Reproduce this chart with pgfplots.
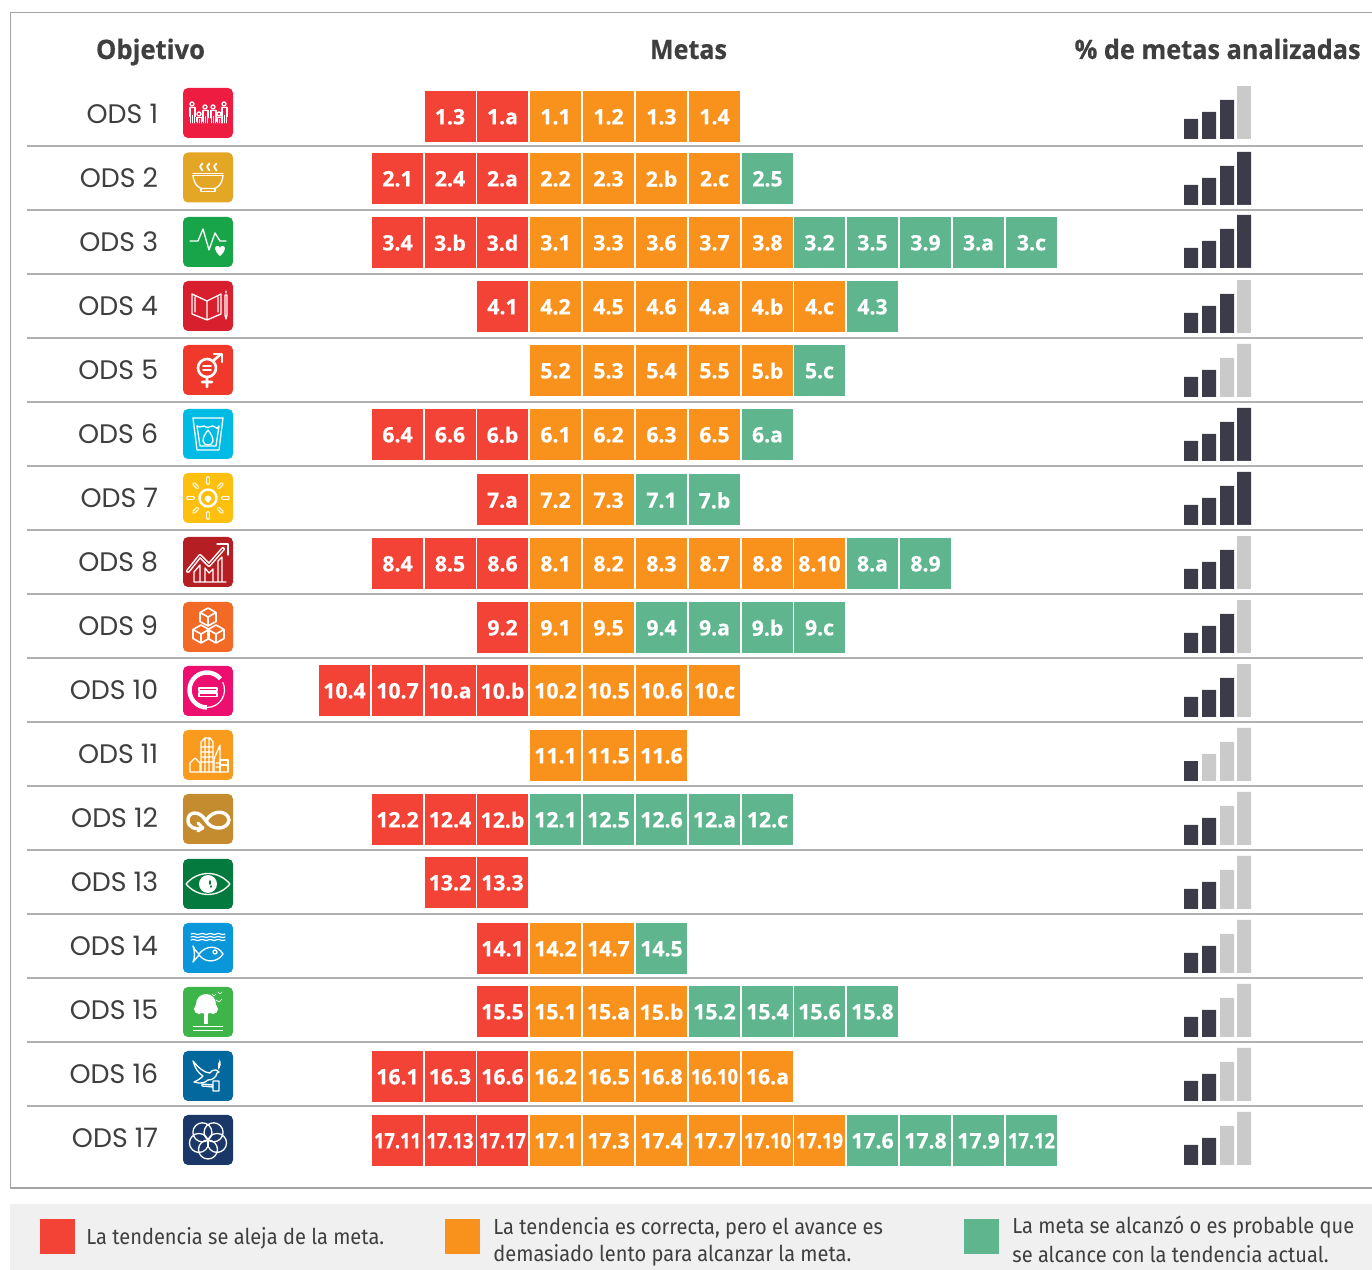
\documentclass[border=0pt]{standalone}
\usepackage{pgfplots}
\usepackage{pgfplotstable}
\usepackage{fontspec}
\pgfplotsset{compat=1.18}
\setmainfont{Fira Sans}
\newfontfamily\legf{Fira Sans}[FakeStretch=0.92]
\newfontfamily\popl{Poppins}
\newfontfamily\popb{Open Sans}[BoldFeatures={FakeBold=0.6}]
\definecolor{tred}{HTML}{F24336}
\definecolor{torange}{HTML}{F8921D}
\definecolor{tgreen}{HTML}{5FB68E}
\definecolor{bdark}{HTML}{3C3B4A}
\definecolor{bgray}{HTML}{CACACA}
\definecolor{ink}{HTML}{3F3F3F}
\definecolor{sepc}{HTML}{B0B0B0}
\definecolor{framec}{HTML}{A4A4A4}

\pgfplotstableread{
x y label
450.5 116 1.3
503 116 1.a
398 178 2.1
450.5 178 2.4
503 178 2.a
398 242 3.4
450.5 242 3.b
503 242 3.d
503 306 4.1
398 434 6.4
450.5 434 6.6
503 434 6.b
503 499.5 7.a
398 563 8.4
450.5 563 8.5
503 563 8.6
503 627 9.2
345 690 10.4
398 690 10.7
450.5 690 10.a
503 690 10.b
398 819 12.2
450.5 819 12.4
503 819 12.b
450.5 882 13.2
503 882 13.3
503 948 14.1
503 1011 15.5
398 1076 16.1
450.5 1076 16.3
503 1076 16.6
398 1140 17.11
450.5 1140 17.13
503 1140 17.17
}\redtiles
\pgfplotstableread{
x y label
556 116 1.1
609 116 1.2
662 116 1.3
715 116 1.4
556 178 2.2
609 178 2.3
662 178 2.b
715 178 2.c
556 242 3.1
609 242 3.3
662 242 3.6
715 242 3.7
768 242 3.8
556 306 4.2
609 306 4.5
662 306 4.6
715 306 4.a
768 306 4.b
820 306 4.c
556 370 5.2
609 370 5.3
662 370 5.4
715 370 5.5
768 370 5.b
556 434 6.1
609 434 6.2
662 434 6.3
715 434 6.5
556 499.5 7.2
609 499.5 7.3
556 563 8.1
609 563 8.2
662 563 8.3
715 563 8.7
768 563 8.8
820 563 8.10
556 627 9.1
609 627 9.5
556 690 10.2
609 690 10.5
662 690 10.6
715 690 10.c
556 755 11.1
609 755 11.5
662 755 11.6
556 948 14.2
609 948 14.7
556 1011 15.1
609 1011 15.a
662 1011 15.b
556 1076 16.2
609 1076 16.5
662 1076 16.8
715 1076 16.10
768 1076 16.a
556 1140 17.1
609 1140 17.3
662 1140 17.4
715 1140 17.7
768 1140 17.10
820 1140 17.19
}\orangetiles
\pgfplotstableread{
x y label
768 178 2.5
820 242 3.2
873 242 3.5
926 242 3.9
979 242 3.a
1032 242 3.c
873 306 4.3
820 370 5.c
768 434 6.a
662 499.5 7.1
715 499.5 7.b
873 563 8.a
926 563 8.9
662 627 9.4
715 627 9.a
768 627 9.b
820 627 9.c
556 819 12.1
609 819 12.5
662 819 12.6
715 819 12.a
768 819 12.c
662 948 14.5
715 1011 15.2
768 1011 15.4
820 1011 15.6
873 1011 15.8
873 1140 17.6
926 1140 17.8
979 1140 17.9
1032 1140 17.12
}\greentiles

\newsavebox\tilebox
\newcommand\tilelabel[1]{\sbox\tilebox{\popb\bfseries\fontsize{10.6pt}{12pt}\selectfont #1}%
  \ifdim\wd\tilebox>23.5pt\resizebox{23.5pt}{\ht\tilebox}{\usebox\tilebox}\else\usebox\tilebox\fi}

% one small bar group per row: baseline in px, dark bars, grey bars
\newcommand\minibars[3]{%
  \begin{axis}[at={(592pt,{(1270-#1)*0.5pt})},anchor=south west,
    width=33.5pt,height=26.5pt,scale only axis,hide axis,clip=false,
    xmin=1184,xmax=1251,ymin=0,ymax=53,ybar,bar width=7pt,bar shift=0pt]
    \addplot[fill=bdark,draw=none] coordinates {#2};
    \addplot[fill=bgray,draw=none] coordinates {#3};
  \end{axis}}

\newcommand\odsrow[2]{\node[anchor=east,text=ink,inner sep=0pt,font=\popl\fontsize{13.4pt}{15pt}\selectfont] at (158.5,#1) {ODS #2};}
\newcommand\sepline[1]{\draw[sepc,line width=0.6pt] (27,#1)--(1363,#1);}
\newcommand\icon[3]{\begin{scope}[shift={(208,#1)}]
  \fill[#2,rounded corners=2.5pt] (-25,-25) rectangle (25,25);
  \begin{scope}[white,line width=0.65pt,line join=round,line cap=round] #3 \end{scope}
\end{scope}}
\newcommand\person[3]{% x, top, height
  \draw (#1,#2) circle (2);
  \draw[line width=0.4pt] (#1-3,#2+3+#3*0.5) -- (#1-3,#2+3) -- (#1+3,#2+3) -- (#1+3,#2+3+#3*0.5);
  \draw[line width=0.4pt] (#1-2,#2+3) -- (#1-2,#2+#3) (#1+2,#2+3) -- (#1+2,#2+#3) (#1,#2+#3*0.6)--(#1,#2+#3);}
\newcommand\cube[2]{\draw[line width=0.8pt] (#1,#2-9) -- (#1+8,#2-4.5) -- (#1+8,#2+4.5) -- (#1,#2+9) -- (#1-8,#2+4.5) -- (#1-8,#2-4.5) -- cycle
  (#1-8,#2-4.5) -- (#1,#2) -- (#1+8,#2-4.5) (#1,#2) -- (#1,#2+9);}
\newcommand\headtxt[2]{\resizebox{#1}{\height}{#2}}

\begin{document}
\begin{tikzpicture}
\path[use as bounding box] (0,0) rectangle (686pt,635pt);
\begin{axis}[width=686pt,height=635pt,scale only axis,hide axis,clip=false,
  xmin=0.5,xmax=1372.5,ymin=0,ymax=1270,y dir=reverse,
  only marks,mark=square*,mark size=12.5pt,
  point meta=explicit symbolic,
  nodes near coords={\tilelabel{\pgfplotspointmeta}},
  every node near coord/.append style={anchor=center,text=white,inner sep=0pt,yshift=-0.4pt}]
  \addplot[color=tred,mark options={fill=tred,line width=0pt}] table[x=x,y=y,meta=label] {\redtiles};
  \addplot[color=torange,mark options={fill=torange,line width=0pt}] table[x=x,y=y,meta=label] {\orangetiles};
  \addplot[color=tgreen,mark options={fill=tgreen,line width=0pt}] table[x=x,y=y,meta=label] {\greentiles};
\end{axis}

\minibars{139}{(1191,20)(1209,27)(1227,39)}{(1244,53)}
\minibars{205}{(1191,20)(1209,27)(1227,39)(1244,53)}{(1244,0)}
\minibars{268}{(1191,20)(1209,27)(1227,39)(1244,53)}{(1244,0)}
\minibars{333}{(1191,20)(1209,27)(1227,39)}{(1244,53)}
\minibars{397}{(1191,20)(1209,27)}{(1227,39)(1244,53)}
\minibars{461}{(1191,20)(1209,27)(1227,39)(1244,53)}{(1244,0)}
\minibars{525}{(1191,20)(1209,27)(1227,39)(1244,53)}{(1244,0)}
\minibars{589}{(1191,20)(1209,27)(1227,39)}{(1244,53)}
\minibars{653}{(1191,20)(1209,27)(1227,39)}{(1244,53)}
\minibars{717}{(1191,20)(1209,27)(1227,39)}{(1244,53)}
\minibars{781}{(1191,20)}{(1209,27)(1227,39)(1244,53)}
\minibars{845}{(1191,20)(1209,27)}{(1227,39)(1244,53)}
\minibars{909}{(1191,20)(1209,27)}{(1227,39)(1244,53)}
\minibars{973}{(1191,20)(1209,27)}{(1227,39)(1244,53)}
\minibars{1037}{(1191,20)(1209,27)}{(1227,39)(1244,53)}
\minibars{1101}{(1191,20)(1209,27)}{(1227,39)(1244,53)}
\minibars{1165}{(1191,20)(1209,27)}{(1227,39)(1244,53)}

\begin{scope}[x=0.5pt,y=-0.5pt,shift={(0pt,635pt)}]
  % frame
  \draw[framec,line width=0.6pt] (1372,12.5)--(10.5,12.5)--(10.5,1188)--(1372,1188);
  \foreach \yy in {146,210,274,338,402,466,530,594,658,722,786,850,914,978,1042,1106} {\sepline{\yy}}
  % headers
  \begin{scope}[every node/.style={inner sep=0pt,text=ink,anchor=base,font=\popb\bfseries\fontsize{13.4pt}{15pt}\selectfont}]
  \node at (150.5,59) {\headtxt{54.5pt}{Objetivo}};
  \node at (688.5,59) {\headtxt{38.5pt}{Metas}};
  \node[anchor=base east] at (1361,59) {\headtxt{143pt}{\% de metas analizadas}};
  \end{scope}
  % row names
  \odsrow{114}{1}\odsrow{178}{2}\odsrow{242}{3}\odsrow{306}{4}\odsrow{370}{5}\odsrow{434}{6}
  \odsrow{498}{7}\odsrow{562}{8}\odsrow{626}{9}\odsrow{690}{10}\odsrow{754}{11}\odsrow{818}{12}
  \odsrow{882}{13}\odsrow{946}{14}\odsrow{1010}{15}\odsrow{1074}{16}\odsrow{1138}{17}
  % icons
  \definecolor{i1}{HTML}{ED1C40}\definecolor{i2}{HTML}{E3A625}\definecolor{i3}{HTML}{18A54A}
  \definecolor{i4}{HTML}{D81F2D}\definecolor{i5}{HTML}{F0392B}\definecolor{i6}{HTML}{00BCE4}
  \definecolor{i7}{HTML}{FDC00F}\definecolor{i8}{HTML}{B51E23}\definecolor{i9}{HTML}{F26A26}
  \definecolor{i10}{HTML}{EC0F70}\definecolor{i11}{HTML}{F99C1E}\definecolor{i12}{HTML}{C48C2E}
  \definecolor{i13}{HTML}{047A3E}\definecolor{i14}{HTML}{0A97D9}\definecolor{i15}{HTML}{3EB54A}
  \definecolor{i16}{HTML}{02689D}\definecolor{i17}{HTML}{1B3768}
  \icon{113}{i1}{\person{-16}{-9}{19}\person{-3}{-6}{16}\person{5}{-6}{16}\person{16}{-9}{19}\person{-9}{1}{9}\person{11}{1}{9}}
  \icon{177.5}{i2}{\draw (-15,-4)--(15,-4) (-15,-2)--(15,-2);
    \draw (-15,-2) .. controls (-14,8) and (-8,11) .. (-6,11) -- (6,11) .. controls (8,11) and (14,8) .. (15,-2);
    \draw (-7,11)--(-7,14)--(7,14)--(7,11);
    \foreach \q in {-7,0,7}{\draw[line width=0.9pt] (\q+1.5,-14) .. controls (\q-1.5,-11) .. (\q+1.5,-7);}}
  \icon{242}{i3}{\draw (-18,-1)--(-10,-1)--(-5,-13)--(1,8)--(7,-9)--(12,-1)--(18,-1);
    \fill (12,14) .. controls (6,9) and (6,4) .. (9,4) .. controls (11,4) .. (12,6) .. controls (13,4) .. (15,4) .. controls (18,4) and (18,9) .. (12,14);}
  \icon{306}{i4}{\draw (-1,-5) -- (-16,-12) -- (-16,8) -- (-1,14) -- (13,8) -- (13,-12) -- cycle (-1,-5) -- (-1,14)
    (-13,-9)--(-13,6) (10,-9)--(10,6);
    \draw (17,-11)--(19,-11)--(19,9)--(18,13)--(17,9)--cycle (18,-15)--(18,-13);}
  \icon{370}{i5}{\draw[line width=1.3pt] (-1,-2) circle (9) (5,-9)--(13,-16) (-1,7)--(-1,17) (-6,12)--(4,12);
    \draw[line width=1.1pt] (6,-16)--(14,-16)--(14,-8);
    \draw[line width=0.9pt] (-5,-4)--(3,-4) (-5,0)--(3,0);}
  \icon{434}{i6}{\draw (-15,-16)--(15,-16)--(11,16)--(-11,16)--cycle
    (-11,-8) .. controls (-7,-5) and (-5,-10) .. (-2,-7) .. controls (1,-5) and (4,-10) .. (7,-7) .. controls (9,-5) .. (11,-8) -- (8,12) -- (-8,12) -- cycle;
    \draw (0,-4) .. controls (-8,6) and (-5,11) .. (0,11) .. controls (5,11) and (8,6) .. (0,-4);}
  \icon{498}{i7}{\draw[line width=1.2pt] (0,0) circle (8.5);\fill (-3.5,1) arc (180:360:3.5) -- (0,5) -- cycle;
    \foreach \a in {0,45,...,315}{\draw[line width=1.9pt] (\a:15)--(\a:20);\draw[i7,line width=0.7pt] (\a:15)--(\a:20);}}
  \icon{562}{i8}{\draw (-14,20)--(18,20)
    (-14,20)--(-14,10)--(-8,3)--(-8,20) (-3,20)--(-3,6)--(1,11)--(5,7)--(5,20) (10,20)--(10,-1)--(14,-5)--(14,20);
    \draw[line width=2pt] (-20,9)--(-8,-6)--(1,3)--(15,-13);
    \draw[line width=0.5pt,i8] (-20,9)--(-8,-6)--(1,3)--(15,-13);
    \draw (9,-18)--(20,-18)--(20,-7);}
  \icon{627}{i9}{\cube{0}{-10}\cube{-7}{7}\cube{8}{7}}
  \icon{691}{i10}{
    \draw[line width=2.2pt,line cap=butt] (-1,-1) ++(-40:17.5) arc (-40:-270:17.5);
    \draw[line width=0.6pt] (-1,16.5) arc (-270:-385:17.5);
    \draw (-9,-3) rectangle (9,0) (-9,2) rectangle (9,5.5);}
  \icon{755}{i11}{\draw (-18,17)--(-18,8)--(-13,3)--(-8,8)--(-8,17) (-18,17)--(19,17);
    \draw (-7,17)--(-7,-13)--(-3,-17)--(2,-17)--(5,-13)--(5,17) (-7,-8)--(5,-8) (-7,-3)--(5,-3) (-7,2)--(5,2) (-7,7)--(5,7) (-3,-17)--(-3,17) (1,-17)--(1,17);
    \draw (6,17)--(6,4)--(12,-10)--(12,17) (8,8)--(12,8) (8,12)--(12,12);
    \draw (12,17)--(12,5)--(20,5)--(20,17) (12,10)--(20,10);}
  \icon{819}{i12}{\draw[line width=1.7pt] (-2,2) .. controls (-8,-9) and (-20,-8) .. (-20,1) .. controls (-20,9) and (-12,11) .. (-6,9)
    (-2,2) .. controls (4,12) and (20,11) .. (21,1) .. controls (20,-9) and (4,-10) .. (-2,2);
    \draw[line width=1.5pt] (-10,4)--(-5,9)--(-10,12);}
  \icon{884}{i13}{\draw (-22,0) .. controls (-10,-14) and (10,-14) .. (22,0) .. controls (10,14) and (-10,14) .. (-22,0);
    \fill (0,0) circle (9);\draw[i13,line width=0.7pt] (2,-3)--(2,0) (3,2)--(3,3);}
  \icon{948}{i14}{\foreach \w in {-14,-11,-8}{\draw[line width=0.6pt] (-17,\w) .. controls (-14,\w-2) and (-11,\w+2) .. (-8,\w) .. controls (-5,\w-2) and (-2,\w+2) .. (0,\w) .. controls (3,\w-2) and (6,\w+2) .. (8,\w) .. controls (11,\w-2) and (14,\w+2) .. (17,\w);}
    \draw (-15,-2) .. controls (-13,2) .. (-9,6) .. controls (-2,-3) and (10,-3) .. (15,6) .. controls (10,14) and (-2,16) .. (-9,7) .. controls (-12,10) .. (-15,14) .. controls (-13,9) and (-13,4) .. (-15,-2);
    \draw (7,4) circle (2);}
  \icon{1012}{i15}{\fill (-2,-8) ellipse (10 and 10);\fill (-9,-3) circle (5);\fill (5,-3) circle (5);
    \fill (-4,0) rectangle (0,12);
    \fill (-15,14) rectangle (15,15.5);\fill (-15,18) rectangle (15,19.5);
    \draw[line width=0.35pt] (4,-18)--(6,-16)--(8,-18) (10,-20)--(12,-18)--(14,-20) (8,-12)--(11,-10)--(14,-13);}
  \icon{1076}{i16}{\draw (-15,-15) .. controls (-13,-8) and (-10,-3) .. (-5,0) .. controls (-8,3) and (-11,5) .. (-14,6) .. controls (-8,8) and (-3,7) .. (0,4) .. controls (4,4) and (8,2) .. (9,-3) -- (11,-4) -- (8,-6) .. controls (6,-6) and (4,-6) .. (2,-3) .. controls (-4,-3) and (-10,-9) .. (-15,-15);
    \fill (10,-12) .. controls (12,-16) .. (11,-17) .. controls (14,-14) and (13,-9) .. (10,-6) -- cycle;
    \draw (-6,8)--(5,9)--(5,11)--(-6,10)--cycle (5,5) rectangle (11,15);}
  \icon{1140}{i17}{\foreach \a in {90,162,234,306,18}{\draw (\a:9.5) circle (9.5);}}
  % legend
  \fill[black!6] (10,1204) rectangle (1372,1270);
  \fill[tred] (40,1219) rectangle (75,1254);
  \fill[torange] (445,1219) rectangle (480,1254);
  \fill[tgreen] (964,1219) rectangle (999,1254);
  \begin{scope}[every node/.style={anchor=west,inner sep=0pt,text=ink,font=\legf\fontsize{10.9pt}{13pt}\selectfont}]
  \node at (86,1238) {La tendencia se aleja de la meta.};
  \node at (493,1228) {La tendencia es correcta, pero el avance es};
  \node at (493,1255) {demasiado lento para alcanzar la meta.};
  \node at (1012,1227) {La meta se alcanzó o es probable que};
  \node at (1012,1254) {se alcance con la tendencia actual.};
  \end{scope}
\end{scope}
\end{tikzpicture}
\end{document}
